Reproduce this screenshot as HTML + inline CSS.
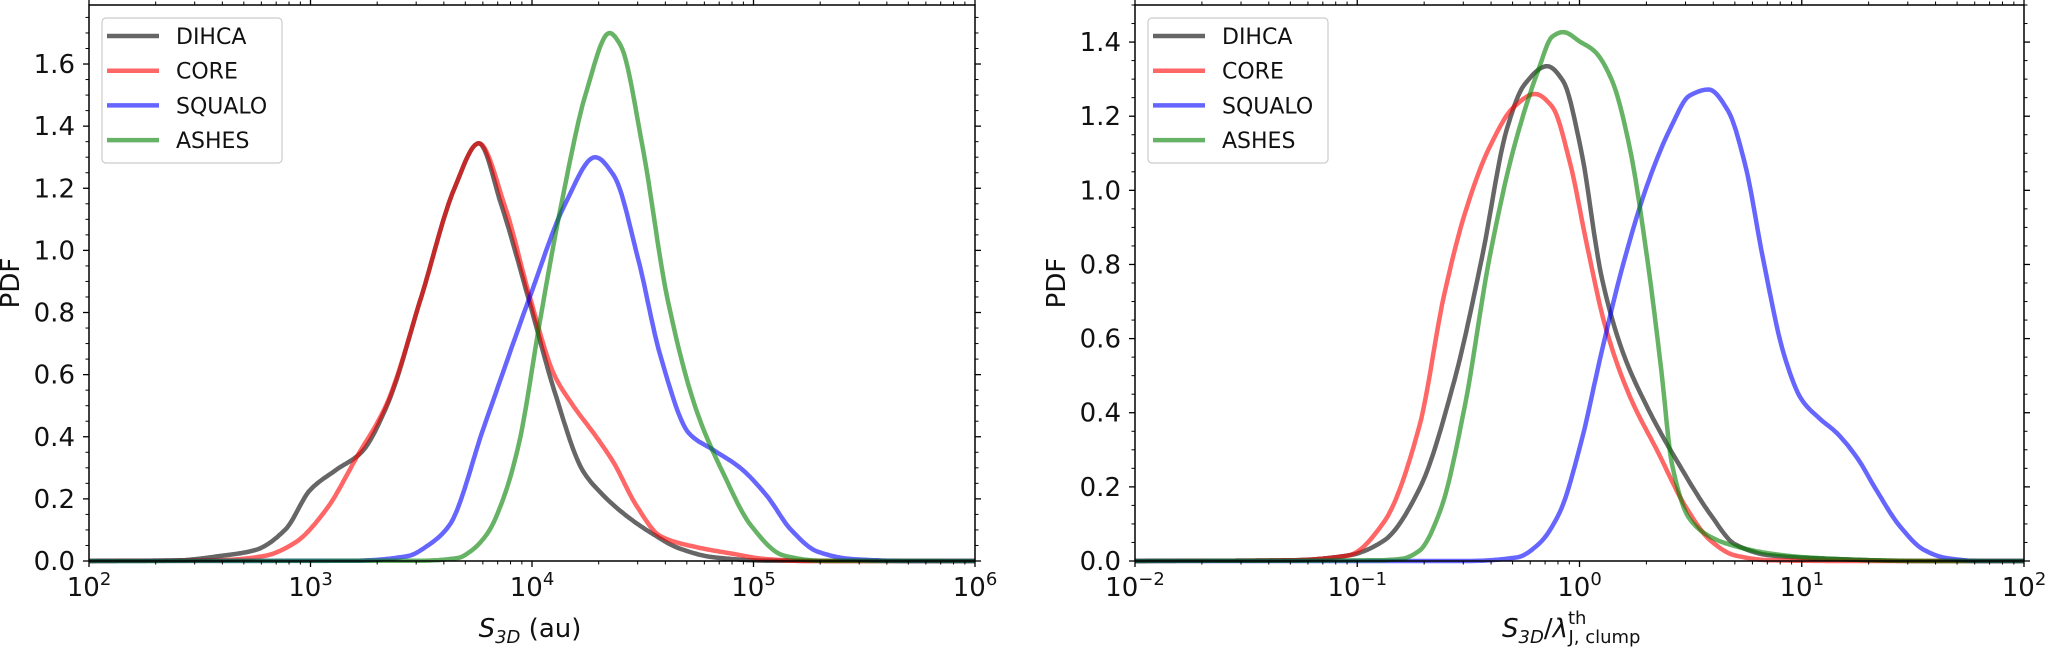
<!DOCTYPE html>
<html><head><meta charset="utf-8">
<style>
html,body{margin:0;padding:0;background:#fff;}
svg{display:block;font-family:"DejaVu Sans","Liberation Sans",sans-serif;}
</style></head>
<body>
<svg id="s" width="2047" height="653" viewBox="0 0 2047 653" xmlns="http://www.w3.org/2000/svg"></svg>
<script>
const S=document.getElementById('s');
let out='';
function mono(pts){ // Fritsch-Carlson monotone cubic, sampled
  const n=pts.length,xs=pts.map(p=>p[0]),ys=pts.map(p=>p[1]);
  const d=[],m=[];
  for(let i=0;i<n-1;i++) d.push((ys[i+1]-ys[i])/(xs[i+1]-xs[i]));
  m[0]=d[0];m[n-1]=d[n-2];
  for(let i=1;i<n-1;i++){
    if(d[i-1]*d[i]<=0) m[i]=0;
    else{const h0=xs[i]-xs[i-1],h1=xs[i+1]-xs[i];const w1=2*h1+h0,w2=h1+2*h0;m[i]=(w1+w2)/(w1/d[i-1]+w2/d[i]);}
  }
  const res=[];
  for(let i=0;i<n-1;i++){
    const h=xs[i+1]-xs[i],N=Math.max(2,Math.ceil(h/2));
    for(let k=0;k<N;k++){
      const t=k/N,t2=t*t,t3=t2*t;
      const y=(2*t3-3*t2+1)*ys[i]+(t3-2*t2+t)*h*m[i]+(-2*t3+3*t2)*ys[i+1]+(t3-t2)*h*m[i+1];
      res.push([xs[i]+t*h,y]);
    }
  }
  res.push([xs[n-1],ys[n-1]]);
  return 'M'+res.map(p=>p[0].toFixed(1)+','+p[1].toFixed(1)).join(' L');
}
function axes(o){
  const {x0,x1,y0,y1,lmin,lmax,ymax,xlbl,series}=o;
  const X=l=>x0+(l-lmin)/(lmax-lmin)*(x1-x0);
  const Y=v=>y1-v/ymax*(y1-y0);
  const cols={DIHCA:'#000000',CORE:'#ff0000',SQUALO:'#0000ff',ASHES:'#008000'};
  for(const k of ['DIHCA','CORE','SQUALO','ASHES']){
    const p=series[k].map(q=>[X(q[0]),Y(q[1])]);
    out+=`<path d="${mono(p)}" fill="none" stroke="${cols[k]}" stroke-opacity="0.6" stroke-width="4.5" stroke-linejoin="round"/>`;
  }
  out+=`<rect x="${x0}" y="${y0}" width="${x1-x0}" height="${y1-y0}" fill="none" stroke="#000" stroke-width="1.5"/>`;
  for(let d=lmin;d<=lmax;d++){
    const x=X(d);
    out+=`<line x1="${x}" y1="${y1}" x2="${x}" y2="${y1+6}" stroke="#000" stroke-width="1.3"/>`;
    out+=`<line x1="${x}" y1="${y0}" x2="${x}" y2="${y0-6}" stroke="#000" stroke-width="1.3"/>`;
    out+=`<text x="${x}" y="596" font-size="26" text-anchor="middle" fill="#111">10<tspan dy="-11" font-size="18">${d<0?'\u2212'+(-d):d}</tspan></text>`;
    if(d<lmax) for(let m=2;m<10;m++){
      const xm=X(d+Math.log10(m));
      out+=`<line x1="${xm}" y1="${y1}" x2="${xm}" y2="${y1+3.5}" stroke="#000" stroke-width="1"/>`;
      out+=`<line x1="${xm}" y1="${y0}" x2="${xm}" y2="${y0-3.5}" stroke="#000" stroke-width="1"/>`;
    }
  }
  for(let v=0;v<=ymax+1e-9;v+=0.05){
    const y=Y(v);
    const maj=Math.abs(v/0.2-Math.round(v/0.2))<1e-6;
    const L=maj?6:3.5;
    out+=`<line x1="${x0}" y1="${y}" x2="${x0-L}" y2="${y}" stroke="#000" stroke-width="${maj?1.3:1}"/>`;
    out+=`<line x1="${x1}" y1="${y}" x2="${x1+L}" y2="${y}" stroke="#000" stroke-width="${maj?1.3:1}"/>`;
    if(maj) out+=`<text x="${x0-14}" y="${y+9}" font-size="26" text-anchor="end" fill="#111">${v.toFixed(1)}</text>`;
  }
  out+=`<text transform="translate(${x0-70},${(y0+y1)/2}) rotate(-90)" font-size="26" text-anchor="middle" fill="#111">PDF</text>`;
  out+=xlbl;
  const lx=x0+13;
  out+=`<rect x="${lx}" y="18" width="180" height="145" rx="4" fill="#fff" fill-opacity="0.8" stroke="#ccc" stroke-width="1.2"/>`;
  ['DIHCA','CORE','SQUALO','ASHES'].forEach((n,i)=>{
    const y=36+i*34.7;
    out+=`<line x1="${lx+5}" y1="${y}" x2="${lx+57}" y2="${y}" stroke="${cols[n]}" stroke-opacity="0.6" stroke-width="4.5"/>`;
    out+=`<text x="${lx+74}" y="${y+8}" font-size="22" fill="#111">${n}</text>`;
  });
}
const L={
DIHCA:[[2,0],[2.4,0.002],[2.59,0.016],[2.75,0.035],[2.885,0.1],[3.0,0.23],[3.115,0.293],[3.23,0.35],[3.345,0.5],[3.5,0.85],[3.65,1.2],[3.76,1.345],[3.86,1.15],[3.99,0.83],[4.10,0.55],[4.23,0.29],[4.31,0.22],[4.42,0.149],[4.55,0.085],[4.66,0.042],[4.82,0.012],[5.06,0.001],[5.5,0],[6,0]],
CORE:[[2,0],[2.6,0.003],[2.79,0.016],[2.93,0.059],[3.07,0.165],[3.21,0.336],[3.345,0.507],[3.5,0.85],[3.65,1.2],[3.76,1.345],[3.88,1.137],[3.99,0.85],[4.10,0.6],[4.18,0.506],[4.29,0.4],[4.37,0.315],[4.47,0.18],[4.58,0.08],[4.74,0.045],[4.9,0.024],[5.06,0.006],[5.25,0],[6,0]],
SQUALO:[[2,0],[3.2,0.001],[3.44,0.016],[3.53,0.05],[3.625,0.113],[3.784,0.434],[3.99,0.85],[4.15,1.15],[4.285,1.3],[4.37,1.24],[4.48,0.97],[4.58,0.66],[4.71,0.41],[4.82,0.357],[4.94,0.30],[5.06,0.21],[5.17,0.10],[5.29,0.03],[5.45,0.006],[5.7,0],[6,0]],
ASHES:[[2,0],[3.5,0.001],[3.667,0.01],[3.72,0.03],[3.80,0.09],[3.87,0.2],[3.94,0.375],[4.04,0.79],[4.13,1.14],[4.245,1.51],[4.35,1.70],[4.40,1.66],[4.50,1.33],[4.61,0.85],[4.74,0.49],[4.865,0.28],[4.99,0.113],[5.135,0.018],[5.3,0.001],[6,0]]
};
axes({x0:89,x1:975,y0:5,y1:561,lmin:2,lmax:6,ymax:1.79,series:L,
 xlbl:`<text x="530" y="637" font-size="26" text-anchor="middle" fill="#111"><tspan font-style="italic">S</tspan><tspan font-style="italic" font-size="18" dy="6">3D</tspan><tspan dy="-6"> (au)</tspan></text>`});
const R={
DIHCA:[[-2,0],[-1.3,0.002],[-1.04,0.015],[-0.88,0.055],[-0.72,0.195],[-0.564,0.485],[-0.44,0.815],[-0.327,1.165],[-0.248,1.285],[-0.145,1.335],[-0.074,1.295],[0.005,1.115],[0.1,0.765],[0.194,0.565],[0.305,0.415],[0.463,0.245],[0.59,0.125],[0.7,0.045],[0.86,0.015],[1.17,0.005],[1.5,0],[2,0]],
CORE:[[-2,0],[-1.3,0.002],[-1.04,0.015],[-0.88,0.105],[-0.72,0.365],[-0.61,0.715],[-0.517,0.935],[-0.406,1.115],[-0.295,1.225],[-0.2,1.26],[-0.122,1.225],[-0.043,1.075],[0.036,0.845],[0.115,0.635],[0.226,0.445],[0.352,0.295],[0.479,0.145],[0.59,0.055],[0.70,0.015],[0.86,0.002],[1.2,0],[2,0]],
SQUALO:[[-2,0],[-0.5,0],[-0.28,0.01],[-0.185,0.045],[-0.09,0.13],[0.005,0.315],[0.1,0.565],[0.194,0.795],[0.305,1.015],[0.415,1.175],[0.494,1.255],[0.581,1.272],[0.668,1.215],[0.747,1.065],[0.826,0.815],[0.921,0.555],[1.0,0.435],[1.079,0.385],[1.158,0.345],[1.253,0.275],[1.332,0.195],[1.44,0.095],[1.55,0.03],[1.65,0.008],[1.8,0],[2,0]],
ASHES:[[-2,0],[-0.9,0.002],[-0.8,0.006],[-0.72,0.028],[-0.627,0.135],[-0.517,0.415],[-0.406,0.815],[-0.295,1.115],[-0.185,1.325],[-0.122,1.415],[-0.074,1.427],[0.005,1.40],[0.068,1.375],[0.147,1.295],[0.226,1.115],[0.305,0.815],[0.368,0.515],[0.415,0.265],[0.494,0.115],[0.59,0.065],[0.70,0.04],[0.86,0.02],[1.016,0.01],[1.33,0.002],[1.6,0],[2,0]]
};
axes({x0:1135,x1:2024,y0:5,y1:561,lmin:-2,lmax:2,ymax:1.5,series:R,
 xlbl:`<text x="1502" y="637" font-size="26" fill="#111"><tspan font-style="italic">S</tspan><tspan font-style="italic" font-size="18" dy="6">3D</tspan><tspan dy="-6">/</tspan><tspan font-style="italic">λ</tspan><tspan font-size="18" dy="-13">th</tspan><tspan font-size="18" dx="-18" dy="19">J, clump</tspan></text>`});
S.innerHTML=out;
</script>
</body></html>
